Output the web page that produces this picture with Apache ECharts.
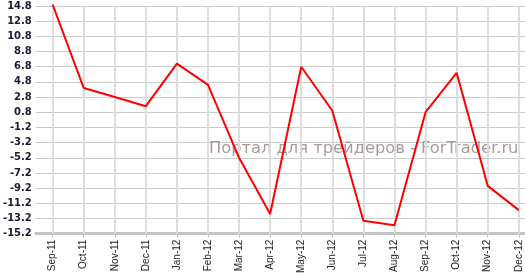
<!DOCTYPE html>
<html><head><meta charset="utf-8">
<script src="https://cdn.jsdelivr.net/npm/echarts@6/dist/echarts.min.js"></script>
<style>html,body{margin:0;padding:0;background:#fff}#c{width:525px;height:276px}</style>
</head><body><div id="c"></div>
<script>
var categories = ['Sep-11','Oct-11','Nov-11','Dec-11','Jan-12','Feb-12','Mar-12','Apr-12','May-12','Jun-12','Jul-12','Aug-12','Sep-12','Oct-12','Nov-12','Dec-12'];
var values = [15.0, 4.0, 2.8, 1.6, 7.2, 4.4, -5.2, -12.6, 6.8, 1.0, -13.5, -14.1, 0.8, 6.0, -8.9, -12.1];
var yMin = -15.2, yMax = 14.8, yStep = 2;
var watermark = 'Портал для трейдеров - ForTrader.ru';

var idx = categories.map(function(_, i){ return i; });
var chart = echarts.init(document.getElementById('c'), null, {renderer:'canvas'});
chart.setOption({
  animation: false,
  grid: {left: 35, right: 0, top: 6, bottom: 39.5, containLabel: false},
  xAxis: {
    type: 'value', min: -0.54, max: 15.2,
    axisLine: {show: true, onZero: false, lineStyle: {color: '#c4c4c4', width: 3}},
    axisTick: {show: true, customValues: idx, length: 4, lineStyle: {color: '#c4c4c4'}},
    axisLabel: {customValues: idx, rotate: 90, margin: 6, color: '#222', fontFamily: 'Liberation Sans', fontSize: 10,
      formatter: function(v){ return categories[Math.round(v)] || ''; }},
    splitLine: {show: false}
  },
  yAxis: {
    type: 'value', min: yMin, max: yMax, interval: yStep,
    axisLine: {show: true, lineStyle: {color: '#c4c4c4', width: 2}},
    axisTick: {show: true, length: 3, lineStyle: {color: '#8ec8f0'}},
    axisLabel: {margin: 4, color: '#1a1a33', fontFamily: 'DejaVu Sans', fontSize: 10, fontWeight: 'bold',
      formatter: function(v){ return v.toFixed(1); }},
    splitLine: {show: true, lineStyle: {color: '#cccccc', width: 1}}
  },
  graphic: [{
    type: 'text', left: 209, top: 141, z: 1,
    style: {text: watermark, fill: 'rgba(140,120,120,0.75)', font: '16.3px "DejaVu Sans"'}
  }],
  series: [{
    type: 'line', z: 0, data: [], silent: true,
    markLine: {
      silent: true, symbol: 'none', label: {show: false},
      lineStyle: {color: '#dcdcdc', width: 2, type: 'solid'},
      data: idx.map(function(i){ return [{coord: [i, yMin]}, {coord: [i, yMax]}]; })
    }
  }, {
    type: 'line', clip: false, z: 5,
    data: values.map(function(v, i){ return [i, v]; }),
    showSymbol: false, symbol: 'none',
    lineStyle: {color: '#ff0000', width: 2}
  }]
});
</script></body></html>
